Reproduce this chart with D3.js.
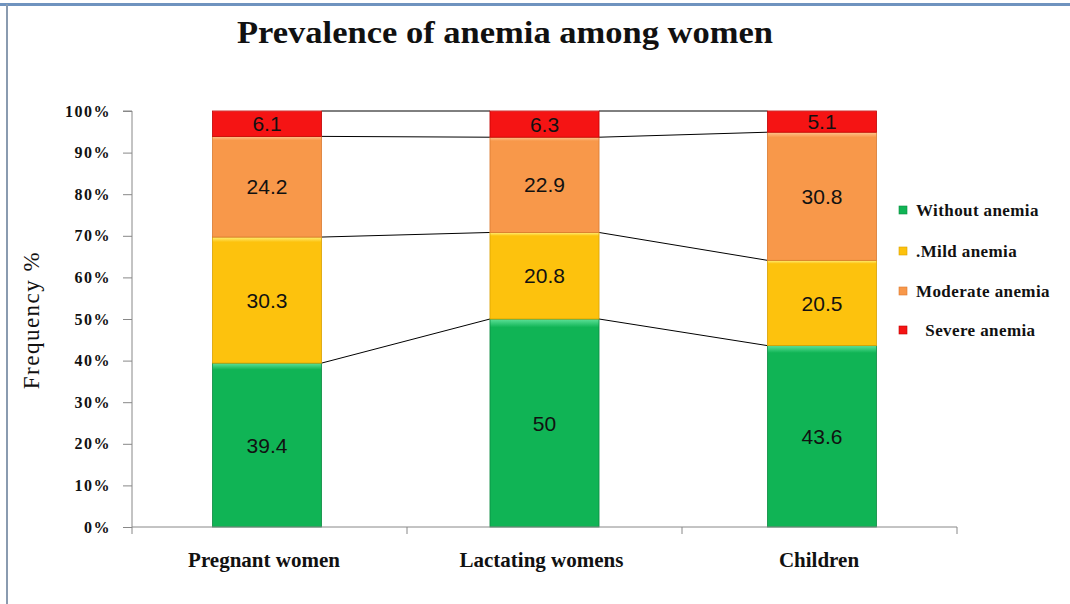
<!DOCTYPE html>
<html>
<head>
<meta charset="utf-8">
<script src="https://cdn.jsdelivr.net/npm/d3@7/dist/d3.min.js"></script>
<style>
  html, body { margin: 0; padding: 0; background: #ffffff; }
  svg { display: block; }
</style>
</head>
<body>
<svg id="chart" width="1070" height="604"></svg>
<script>
// ---- data ----
const categories = ["Pregnant women", "Lactating womens", "Children"];
const seriesNames = ["Without anemia", "Mild anemia", "Moderate anemia", "Severe anemia"];
const withoutAnemia = [39.4, 50, 43.6];
const mildAnemia = [30.3, 20.8, 20.5];
const moderateAnemia = [24.2, 22.9, 30.8];
const severeAnemia = [6.1, 6.3, 5.1];
const yTicks = [0, 10, 20, 30, 40, 50, 60, 70, 80, 90, 100];
const legendLabels = ["Without anemia", ".Mild anemia", "Moderate anemia", "  Severe anemia"];
const seriesColors = ["#10b455", "#fdc20d", "#f8984a", "#f51414"];
const seriesDark = ["#0a8a40", "#d9a000", "#d97a30", "#c00000"];
const seriesLight = ["#5fe29a", "#fff07a", "#ffc590", "#ff7070"];

const rows = categories.map((c, i) => ({
  category: c,
  "Without anemia": withoutAnemia[i],
  "Mild anemia": mildAnemia[i],
  "Moderate anemia": moderateAnemia[i],
  "Severe anemia": severeAnemia[i]
}));

const svg = d3.select("#chart");

// frame
svg.append("line").attr("x1", 0).attr("x2", 1070).attr("y1", 4.5).attr("y2", 4.5)
  .attr("stroke", "#6f93bf").attr("stroke-width", 3);
svg.append("line").attr("x1", 7).attr("x2", 7).attr("y1", 4).attr("y2", 604)
  .attr("stroke", "#8a9bb0").attr("stroke-width", 2);

const plot = { left: 132, right: 957, top: 111, bottom: 527 };

const x = d3.scaleBand().domain(categories).range([plot.left, plot.right]).paddingInner(0.607).paddingOuter(0.29);
const xOuter = d3.scaleBand().domain(categories).range([plot.left, plot.right]);
const y = d3.scaleLinear().domain([0, 100]).range([plot.bottom, plot.top]);

const stack = d3.stack().keys(seriesNames);
const stacked = stack(rows);

// gradients
const defs = svg.append("defs");
seriesColors.forEach((c, i) => {
  const g = defs.append("linearGradient").attr("id", "g" + i).attr("x1", 0).attr("x2", 0).attr("y1", 0).attr("y2", 1);
  g.append("stop").attr("offset", "0%").attr("stop-color", seriesLight[i]);
  g.append("stop").attr("offset", "4%").attr("stop-color", c);
  g.append("stop").attr("offset", "100%").attr("stop-color", c);
});

// series lines
const lineG = svg.append("g");
stacked.forEach(layer => {
  for (let i = 0; i < categories.length - 1; i++) {
    const a = layer[i], b = layer[i + 1];
    lineG.append("line")
      .attr("x1", x(categories[i]) + x.bandwidth())
      .attr("x2", x(categories[i + 1]))
      .attr("y1", y(a[1]))
      .attr("y2", y(b[1]))
      .attr("stroke", "#000").attr("stroke-width", 1);
  }
});

// bars
const barG = svg.append("g");
stacked.forEach((layer, si) => {
  const g = barG.append("g");
  g.selectAll("rect").data(layer).join("rect")
    .attr("x", d => x(d.data.category))
    .attr("y", d => y(d[1]))
    .attr("width", x.bandwidth())
    .attr("height", d => y(d[0]) - y(d[1]))
    .attr("fill", "url(#g" + si + ")")
    .attr("stroke", seriesDark[si]).attr("stroke-width", 0.8);
  g.selectAll("text").data(layer).join("text")
    .attr("x", d => x(d.data.category) + x.bandwidth() / 2)
    .attr("y", d => (y(d[0]) + y(d[1])) / 2)
    .attr("dy", "0.36em")
    .attr("text-anchor", "middle")
    .attr("font-family", "Liberation Sans, Arial, sans-serif")
    .attr("font-size", 21)
    .attr("fill", "#111")
    .text(d => String(d.data[seriesNames[si]]));
});

// y axis
const yAxis = d3.axisLeft(y).tickValues(yTicks).tickFormat(d => d + "%").tickSize(9).tickPadding(12);
const yg = svg.append("g").attr("transform", `translate(${plot.left},0)`).call(yAxis);
yg.select(".domain").attr("stroke", "#888").attr("d", `M-9,${plot.top}H0V${plot.bottom}`);
yg.selectAll(".tick line").attr("stroke", "#888");
yg.selectAll(".tick text")
  .attr("font-family", "Liberation Serif, Times New Roman, serif")
  .attr("font-weight", "bold").attr("font-size", 16).attr("fill", "#111")
  .attr("letter-spacing", 1.5);

// x axis
const xg = svg.append("g").attr("transform", `translate(0,${plot.bottom})`);
xg.append("line").attr("x1", plot.left).attr("x2", plot.right).attr("stroke", "#888");
xg.selectAll(".xt").data(categories).join("line")
  .attr("x1", d => xOuter(d) + xOuter.bandwidth()).attr("x2", d => xOuter(d) + xOuter.bandwidth())
  .attr("y1", 0).attr("y2", 7).attr("stroke", "#888");
xg.append("line").attr("x1", plot.left).attr("x2", plot.left).attr("y1", 0).attr("y2", 7).attr("stroke", "#888");
xg.selectAll(".xl").data(categories).join("text")
  .attr("x", d => x(d) + x.bandwidth() / 2 - 3)
  .attr("y", 40)
  .attr("text-anchor", "middle")
  .attr("font-family", "Liberation Serif, Times New Roman, serif")
  .attr("font-weight", "bold").attr("font-size", 21).attr("fill", "#111")
  .text(d => d);

// y label
svg.append("text")
  .attr("transform", "translate(39,320) rotate(-90)")
  .attr("text-anchor", "middle")
  .attr("font-family", "Liberation Serif, Times New Roman, serif")
  .attr("font-size", 23).attr("fill", "#111")
  .attr("letter-spacing", 1.5)
  .text("Frequency %");

// title
svg.append("text")
  .attr("x", 505).attr("y", 43)
  .attr("text-anchor", "middle")
  .attr("font-family", "Liberation Serif, Times New Roman, serif")
  .attr("font-weight", "bold")
  .attr("font-size", 32).attr("fill", "#111")
  .attr("textLength", 536).attr("lengthAdjust", "spacingAndGlyphs")
  .text("Prevalence of anemia among women");

// legend
const legendY = [210, 251, 291, 330];
const lg = svg.append("g");
legendLabels.forEach((t, i) => {
  lg.append("rect").attr("x", 899).attr("y", legendY[i] - 4).attr("width", 8).attr("height", 8)
    .attr("fill", seriesColors[i]).attr("stroke", seriesDark[i]).attr("stroke-width", 0.6);
  lg.append("text").attr("x", 916).attr("y", legendY[i]).attr("dy", "0.35em")
    .attr("font-family", "Liberation Serif, Times New Roman, serif")
    .attr("font-weight", "bold").attr("font-size", 17).attr("fill", "#111")
    .attr("letter-spacing", 0.4)
    .style("white-space", "pre")
    .text(t);
});
</script>
</body>
</html>
